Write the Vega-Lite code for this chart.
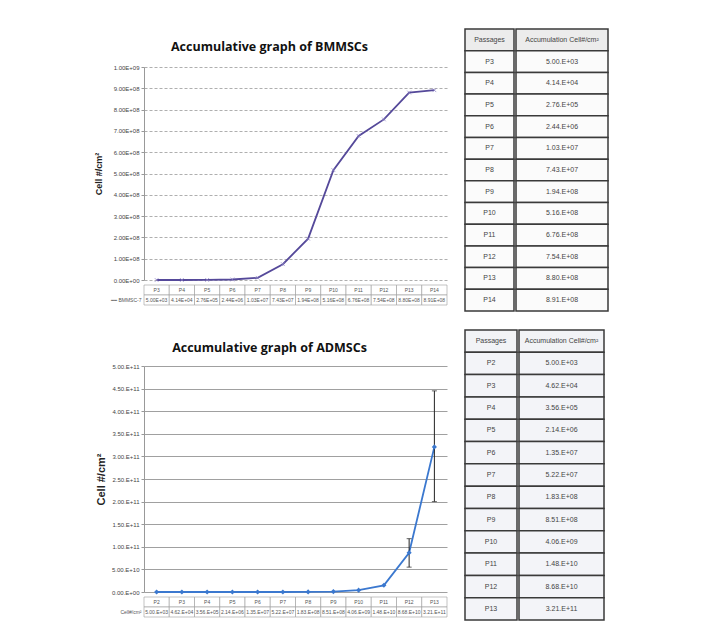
{
  "$schema": "https://vega.github.io/schema/vega-lite/v6.json",
  "padding": {"left": 94, "top": 28, "right": 5, "bottom": 0},
  "background": "white",
  "config": {
    "view": {"stroke": null},
    "font": "Liberation Sans",
    "axis": {"labelColor": "#444", "titleColor": "#222"}
  },
  "datasets": {
    "bm": [
      {"passage": "P3", "value": 5.00e3, "txt": "5.00E+03"},
      {"passage": "P4", "value": 4.14e4, "txt": "4.14E+04"},
      {"passage": "P5", "value": 2.76e5, "txt": "2.76E+05"},
      {"passage": "P6", "value": 2.44e6, "txt": "2.44E+06"},
      {"passage": "P7", "value": 1.03e7, "txt": "1.03E+07"},
      {"passage": "P8", "value": 7.43e7, "txt": "7.43E+07"},
      {"passage": "P9", "value": 1.94e8, "txt": "1.94E+08"},
      {"passage": "P10", "value": 5.16e8, "txt": "5.16E+08"},
      {"passage": "P11", "value": 6.76e8, "txt": "6.76E+08"},
      {"passage": "P12", "value": 7.54e8, "txt": "7.54E+08"},
      {"passage": "P13", "value": 8.80e8, "txt": "8.80E+08"},
      {"passage": "P14", "value": 8.91e8, "txt": "8.91E+08"}
    ],
    "ad": [
      {"passage": "P2", "value": 5.00e3, "txt": "5.00.E+03", "lo": null, "hi": null},
      {"passage": "P3", "value": 4.62e4, "txt": "4.62.E+04", "lo": null, "hi": null},
      {"passage": "P4", "value": 3.56e5, "txt": "3.56.E+05", "lo": null, "hi": null},
      {"passage": "P5", "value": 2.14e6, "txt": "2.14.E+06", "lo": null, "hi": null},
      {"passage": "P6", "value": 1.35e7, "txt": "1.35.E+07", "lo": null, "hi": null},
      {"passage": "P7", "value": 5.22e7, "txt": "5.22.E+07", "lo": null, "hi": null},
      {"passage": "P8", "value": 1.83e8, "txt": "1.83.E+08", "lo": null, "hi": null},
      {"passage": "P9", "value": 8.51e8, "txt": "8.51.E+08", "lo": null, "hi": null},
      {"passage": "P10", "value": 4.06e9, "txt": "4.06.E+09", "lo": null, "hi": null},
      {"passage": "P11", "value": 1.48e10, "txt": "1.48.E+10", "lo": null, "hi": null},
      {"passage": "P12", "value": 8.68e10, "txt": "8.68.E+10", "lo": 5.5e10, "hi": 1.18e11},
      {"passage": "P13", "value": 3.21e11, "txt": "3.21.E+11", "lo": 2.0e11, "hi": 4.45e11}
    ],
    "titles": [
      {"chart": "bm", "title": "Accumulative graph of BMMSCs"},
      {"chart": "ad", "title": "Accumulative graph of ADMSCs"}
    ],
    "bmTable": [
      {"p": "Passages", "v": "Accumulation Cell#/cm²"},
      {"p": "P3", "v": "5.00.E+03"},
      {"p": "P4", "v": "4.14.E+04"},
      {"p": "P5", "v": "2.76.E+05"},
      {"p": "P6", "v": "2.44.E+06"},
      {"p": "P7", "v": "1.03.E+07"},
      {"p": "P8", "v": "7.43.E+07"},
      {"p": "P9", "v": "1.94.E+08"},
      {"p": "P10", "v": "5.16.E+08"},
      {"p": "P11", "v": "6.76.E+08"},
      {"p": "P12", "v": "7.54.E+08"},
      {"p": "P13", "v": "8.80.E+08"},
      {"p": "P14", "v": "8.91.E+08"}
    ],
    "adTable": [
      {"p": "Passages", "v": "Accumulation Cell#/cm²"},
      {"p": "P2", "v": "5.00.E+03"},
      {"p": "P3", "v": "4.62.E+04"},
      {"p": "P4", "v": "3.56.E+05"},
      {"p": "P5", "v": "2.14.E+06"},
      {"p": "P6", "v": "1.35.E+07"},
      {"p": "P7", "v": "5.22.E+07"},
      {"p": "P8", "v": "1.83.E+08"},
      {"p": "P9", "v": "8.51.E+08"},
      {"p": "P10", "v": "4.06.E+09"},
      {"p": "P11", "v": "1.48.E+10"},
      {"p": "P12", "v": "8.68.E+10"},
      {"p": "P13", "v": "3.21.E+11"}
    ]
  },
  "spacing": 16,
  "hconcat": [
    {
      "spacing": 26,
      "vconcat": [
        {
          "spacing": 0,
          "vconcat": [
            {
              "width": 303,
              "height": 35,
              "data": {"name": "titles"},
              "transform": [{"filter": "datum.chart == 'bm'"}],
              "mark": {"type": "text", "font": "Open Sans", "fontSize": 12.5, "fontWeight": "bold", "color": "#111", "align": "center", "baseline": "middle", "dx": -26},
              "encoding": {"text": {"field": "title"}}
            },
            {
              "width": 303,
              "height": 213,
              "data": {"name": "bm"},
              "encoding": {
                "x": {"field": "passage", "type": "ordinal", "axis": null, "scale": {"domain": ["P3", "P4", "P5", "P6", "P7", "P8", "P9", "P10", "P11", "P12", "P13", "P14"], "paddingInner": 0, "paddingOuter": 0}},
                "y": {"field": "value", "type": "quantitative", "scale": {"domain": [0, 1000000000]},
                  "axis": {"values": [0, 100000000, 200000000, 300000000, 400000000, 500000000, 600000000, 700000000, 800000000, 900000000, 1000000000],
                    "labelExpr": "datum.value == 0 ? '0.00E+00' : datum.value >= 1e9 ? '1.00E+09' : format(datum.value/1e8, '.2f') + 'E+08'",
                    "title": "Cell #/cm²", "titleFontSize": 9, "titleFontWeight": "bold", "titlePadding": 5,
                    "labelFontSize": 6, "grid": true, "gridDash": [3, 2], "gridColor": "#9a9a9a", "gridWidth": 0.8,
                    "domainColor": "#999", "tickColor": "#999", "tickSize": 3, "labelPadding": 2, "minExtent": 36, "maxExtent": 36}}
              },
              "layer": [
                {"mark": {"type": "line", "color": "#55499a", "strokeWidth": 1.8}},
                {"mark": {"type": "point", "shape": "M-1,-1L1,1M-1,1L1,-1", "filled": false, "stroke": "#8a7fc4", "strokeWidth": 1, "size": 14}}
              ]
            },
            {
              "width": 303,
              "height": 20,
              "data": {"name": "bm"},
              "transform": [{"fold": ["passage", "txt"], "as": ["row", "cell"]}],
              "encoding": {
                "x": {"field": "passage", "type": "ordinal", "axis": null, "scale": {"domain": ["P3", "P4", "P5", "P6", "P7", "P8", "P9", "P10", "P11", "P12", "P13", "P14"], "paddingInner": 0, "paddingOuter": 0}},
                "y": {"field": "row", "type": "ordinal", "sort": ["passage", "txt"], "scale": {"paddingInner": 0, "paddingOuter": 0},
                  "axis": {"title": null, "domain": false, "ticks": false, "labelFontSize": 5, "labelColor": "#555", "labelPadding": 3, "minExtent": 36, "maxExtent": 36,
                    "labelExpr": "datum.value == 'txt' ? '━━ BMMSC-7' : ''"}}
              },
              "layer": [
                {"mark": {"type": "rect", "fill": "white", "stroke": "#9a9a9a", "strokeWidth": 0.6}},
                {"mark": {"type": "text", "fontSize": 5, "color": "#555"}, "encoding": {"text": {"field": "cell"}}}
              ]
            }
          ]
        },
        {
          "spacing": 0,
          "vconcat": [
            {
              "width": 303,
              "height": 31,
              "data": {"name": "titles"},
              "transform": [{"filter": "datum.chart == 'ad'"}],
              "mark": {"type": "text", "font": "Open Sans", "fontSize": 12.5, "fontWeight": "bold", "color": "#111", "align": "center", "baseline": "middle", "dx": -26},
              "encoding": {"text": {"field": "title"}}
            },
            {
              "width": 303,
              "height": 226,
              "data": {"name": "ad"},
              "encoding": {
                "x": {"field": "passage", "type": "ordinal", "axis": null, "scale": {"domain": ["P2", "P3", "P4", "P5", "P6", "P7", "P8", "P9", "P10", "P11", "P12", "P13"], "paddingInner": 0, "paddingOuter": 0}},
                "y": {"field": "value", "type": "quantitative", "scale": {"domain": [0, 500000000000]},
                  "axis": {"values": [0, 50000000000, 100000000000, 150000000000, 200000000000, 250000000000, 300000000000, 350000000000, 400000000000, 450000000000, 500000000000],
                    "labelExpr": "datum.value == 0 ? '0.00.E+00' : datum.value < 1e11 ? format(datum.value/1e10, '.2f') + '.E+10' : format(datum.value/1e11, '.2f') + '.E+11'",
                    "title": "Cell #/cm²", "titleFontSize": 11, "titleFontWeight": "bold", "titlePadding": 2,
                    "labelFontSize": 6, "grid": true, "gridColor": "#a0a0a0", "gridWidth": 1,
                    "domainColor": "#999", "tickColor": "#999", "tickSize": 3, "labelPadding": 2, "minExtent": 36, "maxExtent": 36}}
              },
              "layer": [
                {"mark": {"type": "line", "color": "#3b78cf", "strokeWidth": 1.8}},
                {"mark": {"type": "rule", "color": "#222", "strokeWidth": 1}, "encoding": {"y": {"field": "lo", "type": "quantitative"}, "y2": {"field": "hi"}}},
                {"mark": {"type": "tick", "orient": "horizontal", "color": "#222", "size": 5, "thickness": 1}, "encoding": {"y": {"field": "lo", "type": "quantitative"}}},
                {"mark": {"type": "tick", "orient": "horizontal", "color": "#222", "size": 5, "thickness": 1}, "encoding": {"y": {"field": "hi", "type": "quantitative"}}},
                {"mark": {"type": "point", "shape": "diamond", "filled": true, "color": "#3b78cf", "size": 26, "opacity": 1}}
              ]
            },
            {
              "width": 303,
              "height": 20,
              "data": {"name": "ad"},
              "transform": [{"fold": ["passage", "txt"], "as": ["row", "cell"]}],
              "encoding": {
                "x": {"field": "passage", "type": "ordinal", "axis": null, "scale": {"domain": ["P2", "P3", "P4", "P5", "P6", "P7", "P8", "P9", "P10", "P11", "P12", "P13"], "paddingInner": 0, "paddingOuter": 0}},
                "y": {"field": "row", "type": "ordinal", "sort": ["passage", "txt"], "scale": {"paddingInner": 0, "paddingOuter": 0},
                  "axis": {"title": null, "domain": false, "ticks": false, "labelFontSize": 5, "labelColor": "#555", "labelPadding": 3, "minExtent": 36, "maxExtent": 36,
                    "labelExpr": "datum.value == 'txt' ? 'Cell#/cm²' : ''"}}
              },
              "layer": [
                {"mark": {"type": "rect", "fill": "white", "stroke": "#9a9a9a", "strokeWidth": 0.6}},
                {"mark": {"type": "text", "fontSize": 5, "color": "#555"}, "encoding": {"text": {"field": "cell"}}}
              ]
            }
          ]
        }
      ]
    },
    {
      "spacing": 17,
      "vconcat": [
        {
          "spacing": 0,
          "hconcat": [
            {
              "width": 49, "height": 282,
              "data": {"name": "bmTable"},
              "encoding": {"y": {"field": "p", "type": "ordinal", "sort": null, "axis": null, "scale": {"paddingInner": 0, "paddingOuter": 0}}},
              "layer": [
                {"mark": {"type": "rect", "stroke": "#3a3a3a", "strokeWidth": 1.5}, "encoding": {"fill": {"condition": {"test": "datum.p == 'Passages'", "value": "#ececec"}, "value": "#fbfbfb"}}},
                {"mark": {"type": "text", "fontSize": 7, "color": "#444"}, "encoding": {"text": {"field": "p"}}}
              ]
            },
            {
              "width": 92, "height": 282,
              "data": {"name": "bmTable"},
              "encoding": {"y": {"field": "p", "type": "ordinal", "sort": null, "axis": null, "scale": {"paddingInner": 0, "paddingOuter": 0}}},
              "layer": [
                {"mark": {"type": "rect", "stroke": "#3a3a3a", "strokeWidth": 1.5}, "encoding": {"fill": {"condition": {"test": "datum.p == 'Passages'", "value": "#ececec"}, "value": "#fbfbfb"}}},
                {"mark": {"type": "text", "fontSize": 7, "color": "#444"}, "encoding": {"text": {"field": "v"}}}
              ]
            }
          ]
        },
        {
          "spacing": 0,
          "hconcat": [
            {
              "width": 52, "height": 290,
              "data": {"name": "adTable"},
              "encoding": {"y": {"field": "p", "type": "ordinal", "sort": null, "axis": null, "scale": {"paddingInner": 0, "paddingOuter": 0}}},
              "layer": [
                {"mark": {"type": "rect", "stroke": "#3a3a3a", "strokeWidth": 1.5}, "encoding": {"fill": {"condition": {"test": "datum.p == 'Passages'", "value": "#f2f3f6"}, "value": "#f3f4f8"}}},
                {"mark": {"type": "text", "fontSize": 7, "color": "#444"}, "encoding": {"text": {"field": "p"}}}
              ]
            },
            {
              "width": 85, "height": 290,
              "data": {"name": "adTable"},
              "encoding": {"y": {"field": "p", "type": "ordinal", "sort": null, "axis": null, "scale": {"paddingInner": 0, "paddingOuter": 0}}},
              "layer": [
                {"mark": {"type": "rect", "stroke": "#3a3a3a", "strokeWidth": 1.5}, "encoding": {"fill": {"condition": {"test": "datum.p == 'Passages'", "value": "#f2f3f6"}, "value": "#f3f4f8"}}},
                {"mark": {"type": "text", "fontSize": 7, "color": "#444"}, "encoding": {"text": {"field": "v"}}}
              ]
            }
          ]
        }
      ]
    }
  ]
}
